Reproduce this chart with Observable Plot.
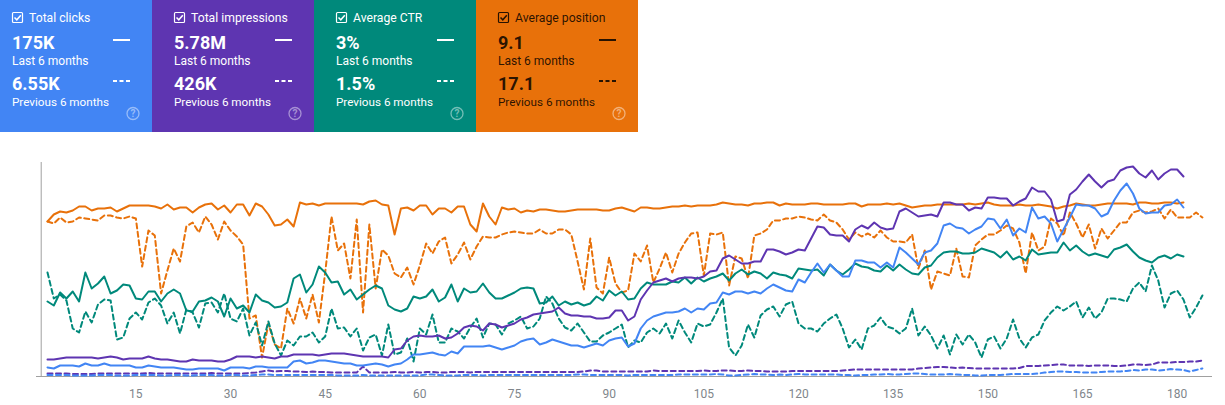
<!DOCTYPE html>
<html>
<head>
<meta charset="utf-8">
<script src="https://cdn.jsdelivr.net/npm/d3@7"></script>
<script src="https://cdn.jsdelivr.net/npm/@observablehq/plot@0.6"></script>
<style>
html,body{margin:0;padding:0;background:#fff;font-family:Roboto,sans-serif;width:1225px;height:405px;overflow:hidden}
#cards{display:flex;height:132px;width:648px;margin-left:-10px}
.card{position:relative;height:132px;width:162px;flex:none}
.card div{position:absolute;white-space:nowrap;left:22px;line-height:1}
.t{font-size:12.2px;font-weight:400;left:39px!important;top:11.9px}
.v{font-size:18px;font-weight:700}
.s{font-size:12px}
.p{font-size:11.7px}
.card svg{position:absolute;left:0;top:0}
#chart svg{display:block}
</style>
</head>
<body>
<div id="cards"></div>
<div id="chart"></div>
<script>
const cardTitles=["Total clicks","Total impressions","Average CTR","Average position"];
const cardLast=["175K","5.78M","3%","9.1"];
const cardPrev=["6.55K","426K","1.5%","17.1"];
const periodLast="Last 6 months";
const periodPrev="Previous 6 months";
const cardColors=["#4285f4","#5e35b1","#00897b","#e8710a"];
const cardInk=["#fff","#fff","#fff","rgba(0,0,0,.84)"];
const tickValues=[15,30,45,60,75,90,105,120,135,150,165,180];

// Series values, as relative height above the baseline (no scale is shown in the chart)
const clicksLast=[9,8,11,11,11,10,13,11,11,13,11,11,11,11,9,9,11,10,9,9,9,8,7,7,8,8,8,8,6,9,9,9,8,10,10,9,9,9,9,15,16,13,14,16,16,15,
14,13,13,11,11,12,13,12,10,12,13,17,22,22,23,24,22,21,25,23,30,30,30,30,31,29,27,29,31,35,37,38,32,34,37,35,33,31,31,29,31,33,31,36,38,39,
30,33,48,56,60,62,64,64,65,68,64,68,67,73,74,84,82,85,85,83,85,83,88,92,89,86,85,97,94,104,113,104,112,106,100,100,116,116,114,114,109,114,109,129,124,118,112,
124,126,133,151,153,149,148,143,147,150,158,157,148,157,141,148,144,169,158,160,153,135,147,159,172,171,171,168,160,163,176,186,193,183,168,163,164,164,171,172,177,169];
const clicksPrev=[1.5,1.5,1.5,1.5,1,1,1,1,1.5,1.5,1.5,1,1,1,1.5,1.5,1.5,1.5,1,1,1.5,1.5,1,1,1.5,1.5,1.5,1,1,1.5,1.5,1,1,1.5,2,2,1.5,1.5,1.5,1.5,
1.5,1.5,1.5,1.5,1.5,1.5,1,1,1,1,1.5,1,1,1,1,1,1,1,1,1,2,2,1.5,1,1,1,1.5,1.5,1.5,1,
1.5,1.5,1.5,1.5,1.5,1.5,1.5,1.5,1.5,1.5,1.5,1.5,1.5,1.5,2,2,1.5,1.5,1.5,1.5,1.5,1.5,1,1.5,1.5,1.5,1.5,1.5,1.5,1.5,
2,2,2,2,2,2,2.5,2,1,1,1.5,2,2.5,2,2,1.5,2,1.5,2,2.5,2,2,2,2,2,2,1.5,1.5,1,1.5,1.5,2,2,2.5,2,2,2.5,3,3,2.5,
2,2,2,2.5,2,1.5,1.5,1,1,1.5,1.5,1.5,2,2.5,2.5,2.5,2.5,3,4,4.5,5,5,4.5,4.5,4,4,4,4.5,5,5,5,5.5,6.5,6,7,7,6,6.5,7.5,7,6.5,5,6.5,8];
const imprLast=[17,17,18,19,19,19,19,19,18,19,20,19,17,18,18,18,20,18,17,17,16,15,15,17,16,16,16,15,15,17,20,20,20,19,20,19,18,20,20,22,22,22,22,21,22,23,
23,23,22,21,20,20,20,20,19,27,28,36,40,41,40,40,41,38,39,43,49,51,50,46,53,52,49,51,53,57,59,62,63,64,65,69,63,61,61,60,60,58,58,59,66,66,
56,60,77,86,94,96,98,95,98,99,99,98,100,105,106,118,121,117,113,113,115,115,127,127,125,122,124,127,126,138,150,149,142,141,141,135,147,151,148,154,149,147,148,165,168,164,160,
161,162,160,174,174,172,172,166,169,168,179,179,178,178,171,175,178,189,185,185,177,155,157,182,187,195,202,195,189,195,197,206,209,210,203,199,206,197,203,207,207,200];
const imprPrev=[3,3,3,3,2.5,2.5,2.5,2.5,3,3,3,3,3,3,3,3,3.5,3,3,3,3,3,3,3,3,3,3.5,3,3,3,3,3,3.5,4,5,6,5,5.5,5.5,5,
5,4.5,5,4.5,4.5,4,4,4,4,4,10,4,4,4,4,4.5,4,4,4.5,4,4.5,4.5,4,4,4.5,4.5,4.5,4,4.5,4.5,
4.5,4.5,4.5,4.5,4.5,4.5,4.5,4.5,4.5,4.5,4.5,4.5,4.5,4.5,4.5,5,6,6,5,5,5,5,5,5,5,5,6,5.5,5.5,5.5,
5.5,5.5,5.5,5.5,6,5.5,5.5,6,6,5.5,5.5,6,5.5,5.5,5,5,5,5,5.5,5.5,5.5,5.5,5.5,5.5,5.5,5.5,6,6.5,7,7,7,7,7,7,7,7,7,7,8,8.5,
9,9.5,9.5,9,8.5,9,8.5,8,8,8,8,8,8,8,8.5,10.5,10.5,10.5,11,11.5,12,12,11,11,11,10.5,11,11,11,10.5,10.5,11,12,12,11.5,12,14,14,14,14.5,14.5,15,15,16];
const ctrLast=[75,71,84,78,85,75,104,88,93,100,83,86,92,91,78,77,85,85,75,83,87,83,66,65,75,76,79,75,60,78,68,71,64,82,76,74,69,70,74,98,102,84,92,110,104,94,
95,82,87,77,82,87,91,88,71,67,65,68,80,78,80,87,75,79,92,75,88,84,85,93,84,78,78,81,84,88,89,88,73,74,80,71,75,72,74,71,73,80,76,86,81,85,
77,78,88,94,92,92,92,95,94,99,93,99,95,98,100,103,96,103,107,102,105,103,98,104,102,101,98,108,107,106,107,101,112,106,102,107,113,110,109,106,105,111,106,112,107,103,102,
109,111,119,124,125,125,123,123,124,128,126,124,119,125,117,120,116,127,122,123,124,124,134,126,131,125,121,123,121,119,127,129,132,125,119,116,114,119,121,118,122,120];
const ctrPrev=[104,78,82,76,48,44,65,54,72,77,76,37,39,58,64,57,74,78,71,53,64,43,67,64,49,73,74,64,83,58,55,68,41,54,31,55,33,21,36,31,40,40,44,34,40,68,
48,49,40,48,26,39,42,21,52,22,24,38,15,48,42,62,34,34,48,45,38,49,58,39,53,52,42,53,56,60,48,50,58,80,73,58,49,46,53,44,35,35,41,44,48,52,
29,36,34,44,48,43,53,38,56,44,34,53,50,52,64,78,29,21,31,52,39,61,67,70,60,72,75,53,48,48,45,53,58,62,48,29,37,27,48,51,59,50,48,43,48,68,41,
50,41,28,41,22,42,32,42,34,19,37,40,28,38,57,38,29,39,42,56,64,70,66,70,75,59,69,58,64,78,78,77,75,88,94,85,111,96,69,83,86,77,59,69,81];
const posLast=[155,162,165,164,166,170,170,166,168,168,169,165,168,171,171,171,171,170,168,172,167,169,169,164,169,172,173,167,171,164,172,172,161,173,170,162,151,152,157,150,174,172,173,171,173,173,
173,173,173,173,172,175,176,172,171,142,168,169,166,171,171,162,168,168,164,170,170,152,145,173,160,152,169,167,168,164,166,165,167,167,166,165,165,166,167,167,167,167,166,166,168,169,
167,165,169,169,168,168,169,170,170,171,170,171,171,171,172,174,173,172,172,171,173,173,174,174,171,173,172,172,172,173,173,172,172,172,172,173,173,170,172,172,172,173,172,173,171,169,170,
171,171,172,172,172,172,172,173,172,173,174,172,171,171,171,172,171,171,172,171,170,168,170,171,173,172,171,171,172,173,173,173,173,172,174,174,173,173,174,174,173,174];
const posPrev=[155,153,159,154,155,159,158,157,156,161,161,159,158,160,158,110,146,141,83,106,128,115,150,154,144,160,152,137,155,146,140,132,58,61,19,53,32,28,68,53,78,58,82,54,104,160,
126,133,98,157,64,152,88,127,121,103,99,109,92,111,133,123,135,139,113,122,134,117,130,140,139,139,142,144,145,144,143,143,147,143,143,147,147,142,115,87,138,89,83,119,93,84,
86,123,115,131,94,108,124,104,123,134,143,144,101,143,142,144,91,120,118,98,141,143,147,156,156,158,158,160,159,157,156,162,156,154,147,137,144,140,143,139,146,139,135,135,134,142,108,
126,87,105,103,101,128,100,99,131,137,142,142,146,151,148,134,103,144,126,130,158,153,141,164,153,139,152,128,148,138,146,154,154,164,166,164,165,168,158,167,159,159,159,164,159];

// Cards
const cardsEl=document.getElementById("cards");
cardTitles.forEach((title,i)=>{
  const ink=cardInk[i];
  const help=i===3?"#fff":ink;
  const c=document.createElement("div");
  c.className="card";c.style.background=cardColors[i];c.style.color=ink;
  c.innerHTML=`<svg width="162" height="132">
    <rect x="22.5" y="12.5" width="10" height="10" rx="1" fill="none" stroke="${ink}" stroke-width="1.2"/>
    <path d="M24.5 17.5l2.3 2.3 4-4.6" fill="none" stroke="${ink}" stroke-width="1.5"/>
    <line x1="123" x2="140" y1="40" y2="40" stroke="${ink}" stroke-width="2"/>
    <line x1="123" x2="140" y1="81" y2="81" stroke="${ink}" stroke-width="2" stroke-dasharray="4 2.5"/>
    <circle cx="143" cy="113.5" r="6" fill="none" stroke="${help}" stroke-opacity=".45" stroke-width="1.3"/>
    <text x="143" y="117" text-anchor="middle" font-size="10" font-weight="700" font-family="Roboto" fill="${help}" fill-opacity=".45">?</text>
  </svg>
  <div class="t">${title}</div>
  <div class="v" style="top:34px">${cardLast[i]}</div>
  <div class="s" style="top:54.8px">${periodLast}</div>
  <div class="v" style="top:74.7px">${cardPrev[i]}</div>
  <div class="p" style="top:96.8px">${periodPrev}</div>`;
  cardsEl.appendChild(c);
});

// Chart
const line=(values,color,dashed)=>Plot.line(values,{
  x:(d,i)=>i+1,y:d=>d,stroke:color,strokeWidth:2,
  strokeDasharray:dashed?"5,3.5":undefined,strokeLinejoin:"round"
});
const chart=Plot.plot({
  width:1225,height:273,
  marginTop:30,marginBottom:29,marginLeft:36,marginRight:13,
  style:{fontFamily:"Roboto",fontSize:"12px",background:"transparent"},
  x:{domain:[-0.743,185.6]},
  y:{domain:[0,214],axis:null},
  marks:[
    Plot.ruleX([0],{stroke:"#a0a0a0",strokeWidth:1}),
    Plot.ruleY([0],{stroke:"#a0a0a0",strokeWidth:1}),
    Plot.axisX({ticks:tickValues,tickSize:0,tickPadding:13,tickFormat:d=>String(d),stroke:"none",fill:"#80868b"}),
    line(posPrev,cardColors[3],true),
    line(ctrPrev,cardColors[2],true),
    line(imprPrev,cardColors[1],true),
    line(clicksPrev,cardColors[0],true),
    line(posLast,cardColors[3],false),
    line(ctrLast,cardColors[2],false),
    line(imprLast,cardColors[1],false),
    line(clicksLast,cardColors[0],false)
  ]
});
document.getElementById("chart").appendChild(chart);
</script>
</body>
</html>
